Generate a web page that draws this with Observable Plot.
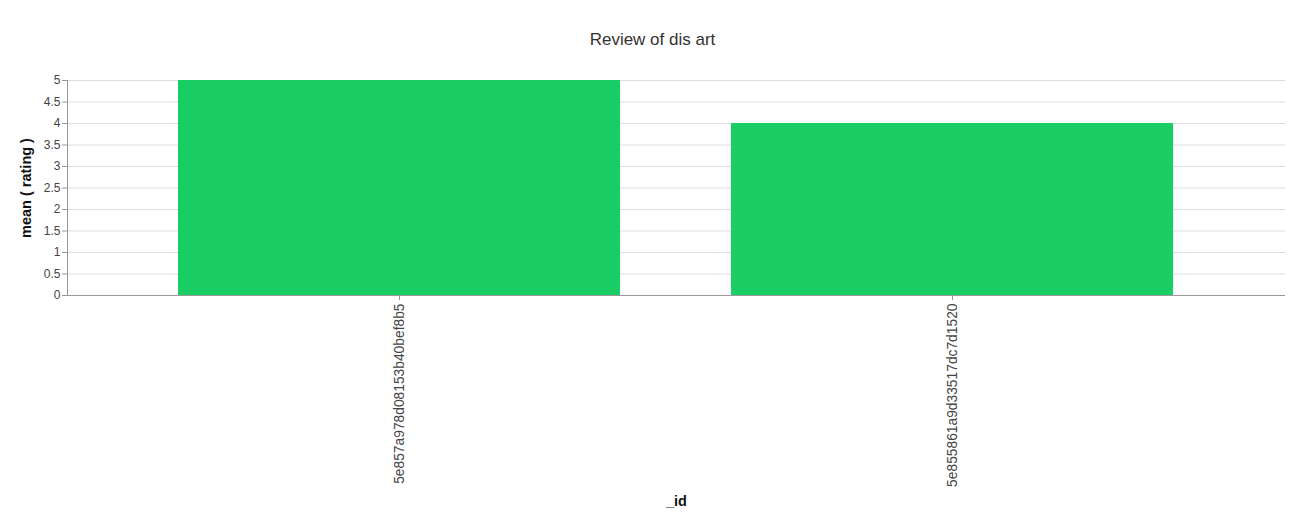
<!DOCTYPE html>
<html>
<head>
<meta charset="utf-8">
<script src="https://cdn.jsdelivr.net/npm/d3@7"></script>
<script src="https://cdn.jsdelivr.net/npm/@observablehq/plot@0.6"></script>
<style>
  html, body { margin: 0; padding: 0; background: #fff; }
  body { width: 1301px; height: 528px; overflow: hidden; font-family: "Liberation Sans", Arial, sans-serif; }
  #title { height: 60px; padding-top: 30px; box-sizing: border-box; text-align: center; font-size: 17px; line-height: 19px; color: #333; padding-left: 4px; }
</style>
</head>
<body>
<div id="title">Review of dis art</div>
<div id="chart"></div>
<script>
const ids = ["5e857a978d08153b40bef8b5", "5e855861a9d33517dc7d1520"];
const ratings = [5, 4];
const yTicks = [0, 0.5, 1, 1.5, 2, 2.5, 3, 3.5, 4, 4.5, 5];
const xLabel = "_id";
const yLabel = "mean ( rating )";

const data = ids.map((id, i) => ({id, rating: ratings[i]}));

const plot = Plot.plot({
  width: 1301,
  height: 468,
  marginTop: 20,
  marginBottom: 233,
  marginLeft: 67,
  marginRight: 16,
  style: {fontFamily: "Liberation Sans, Arial, sans-serif", fontSize: "12px", color: "#333", background: "#fff"},
  x: {domain: ids, padding: 0.2, label: null},
  y: {domain: [0, 5], label: null},
  marks: [
    Plot.gridY(yTicks, {stroke: "#ddd", strokeOpacity: 1}),
    Plot.barY(data, {x: "id", y: "rating", fill: "#1acd64"}),
    Plot.ruleY([0], {stroke: "#999"}),
    Plot.axisY(yTicks, {tickSize: 5, tickPadding: 2, stroke: "#999", fill: "#444", fontSize: 12, tickFormat: d => String(d)}),
    Plot.axisX({tickSize: 5, tickPadding: 3, tickRotate: -90, stroke: "#999", fill: "#444", fontSize: 13.8}),
    Plot.text([yLabel], {frameAnchor: "left", textAnchor: "middle", dx: -41, rotate: -90, fontWeight: "bold", fontSize: 14.5, fill: "#111"}),
    Plot.text([xLabel], {frameAnchor: "bottom", dy: 210, fontWeight: "bold", fontSize: 14.5, fill: "#111"})
  ]
});
const svg = d3.select(plot);
svg.append("line").attr("x1", 67.5).attr("x2", 67.5).attr("y1", 20).attr("y2", 235).attr("stroke", "#999");
document.getElementById("chart").appendChild(plot);
</script>
</body>
</html>
